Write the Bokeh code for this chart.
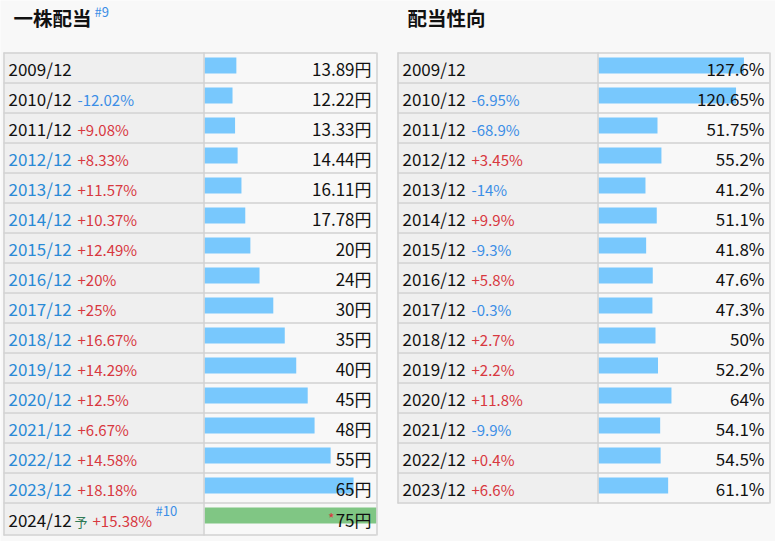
import numpy as np
from bokeh.plotting import figure
from bokeh.models import Range1d
from bokeh.embed import file_html
from bokeh.resources import INLINE
from bokeh.core.properties import value

# ---------------- data ----------------
div_title = "一株配当"
div_note = "#9"
div_periods = ["2009/12", "2010/12", "2011/12", "2012/12", "2013/12", "2014/12",
               "2015/12", "2016/12", "2017/12", "2018/12", "2019/12", "2020/12",
               "2021/12", "2022/12", "2023/12", "2024/12"]
div_changes = ["", "-12.02%", "+9.08%", "+8.33%", "+11.57%", "+10.37%", "+12.49%",
               "+20%", "+25%", "+16.67%", "+14.29%", "+12.5%", "+6.67%", "+14.58%",
               "+18.18%", "+15.38%"]
div_values = [13.89, 12.22, 13.33, 14.44, 16.11, 17.78, 20, 24, 30, 35, 40, 45,
              48, 55, 65, 75]
div_linked = [False, False, False, True, True, True, True, True, True, True, True,
              True, True, True, True, False]
div_forecast = [False] * 15 + [True]
div_unit = "円"
div_scale_max = 75

pay_title = "配当性向"
pay_periods = ["2009/12", "2010/12", "2011/12", "2012/12", "2013/12", "2014/12",
               "2015/12", "2016/12", "2017/12", "2018/12", "2019/12", "2020/12",
               "2021/12", "2022/12", "2023/12"]
pay_changes = ["", "-6.95%", "-68.9%", "+3.45%", "-14%", "+9.9%", "-9.3%", "+5.8%",
               "-0.3%", "+2.7%", "+2.2%", "+11.8%", "-9.9%", "+0.4%", "+6.6%"]
pay_values = [127.6, 120.65, 51.75, 55.2, 41.2, 51.1, 41.8, 47.6, 47.3, 50, 52.2,
              64, 54.1, 54.5, 61.1]
pay_linked = [False] * 15
pay_forecast = [False] * 15
pay_unit = "%"
pay_scale_max = 150

# ---------------- styling ----------------
W, H = 775, 541
FONT = "Noto Sans CJK JP"
BG = "#f8f8f8"
LABEL_BG = "#efefef"
GRID = "#d2d2d2"
BAR = "#78c8fd"
BAR_FC = "#80c684"
BLUE = "#3c8ee6"
LINK = "#2a8ad6"
RED = "#d8383f"
BLACK = "#111111"

p = figure(width=W, height=H, x_range=Range1d(0, W), y_range=Range1d(H, 0),
           output_backend="svg", toolbar_location=None, min_border=0,
           x_axis_location=None, y_axis_location=None)
p.grid.visible = False
p.outline_line_color = None
p.background_fill_color = BG
p.border_fill_color = BG

TOP = 52
ROW = 30


def panel(x0, xdiv, x1, title, note, periods, changes, values, linked, forecast,
          unit, scale_max):
    n = len(periods)
    heights = np.array([32 if f else ROW for f in forecast], dtype=float)
    tops = TOP + np.concatenate([[0], np.cumsum(heights)[:-1]])
    bottoms = tops + heights

    # title
    p.text(x=[x0 + 10], y=[17], text=[title], text_font=value(FONT),
           text_font_size="19.5px", text_font_style="bold", text_color="#111111",
           text_baseline="middle", text_align="left")
    if note:
        p.text(x=[x0 + 91], y=[11], text=[note], text_font=value(FONT),
               text_font_size="13px", text_color=BLUE,
               text_baseline="middle", text_align="left")

    # backgrounds
    p.quad(left=x0, right=xdiv, top=tops, bottom=bottoms, fill_color=LABEL_BG,
           line_color=None)

    # bars
    bar_left = xdiv + 1
    bar_w = x1 - bar_left
    vals = np.array(values, dtype=float)
    rights = bar_left + vals / scale_max * bar_w
    colors = [BAR_FC if f else BAR for f in forecast]
    p.hbar(y=tops + 13, left=bar_left, right=rights, height=16,
           fill_color=colors, line_color=None)

    # grid lines
    ys = np.concatenate([tops, [bottoms[-1]]]) + 0.5
    p.segment(x0=[x0] * len(ys), y0=ys, x1=[x1] * len(ys), y1=ys,
              line_color=GRID, line_width=1.5)
    p.segment(x0=[x0 + 0.5, xdiv + 0.5, x1 + 0.5], y0=[TOP] * 3,
              x1=[x0 + 0.5, xdiv + 0.5, x1 + 0.5], y1=[bottoms[-1] + 1] * 3,
              line_color=GRID, line_width=1.5)

    cy = (tops + bottoms) / 2 + 0.5
    # period labels
    p.text(x=[x0 + 5] * n, y=cy, text=periods, text_font=value(FONT),
           text_font_size="17px", text_baseline="middle", text_align="left",
           text_color=[LINK if l else BLACK for l in linked])

    # forecast marker and changes
    chx = [x0 + 89 if f else x0 + 74 for f in forecast]
    p.text(x=chx, y=cy + 1, text=changes, text_font=value(FONT),
           text_font_size="15px", text_baseline="middle", text_align="left",
           text_color=[BLUE if c.startswith("-") else RED for c in changes])
    fidx = [i for i, f in enumerate(forecast) if f]
    if fidx:
        i = fidx[0]
        p.text(x=[x0 + 71], y=[cy[i] + 2], text=["予"], text_font=value(FONT),
               text_font_size="13px", text_baseline="middle", text_align="left",
               text_color="#2f7a55")
        p.text(x=[x0 + 152], y=[cy[i] - 9], text=["#10"], text_font=value(FONT),
               text_font_size="13px", text_baseline="middle", text_align="left",
               text_color=BLUE)

    # values
    labels = [f"{v:g}{unit}" for v in values]
    p.text(x=[x1 - 5] * n, y=cy, text=labels, text_font=value(FONT),
           text_font_size="17px", text_baseline="middle", text_align="right",
           text_color=BLACK)
    if fidx:
        i = fidx[0]
        p.text(x=[x1 - 42], y=[cy[i] - 1], text=["*"], text_font=value(FONT),
               text_font_size="14px", text_baseline="middle", text_align="right",
               text_color=RED)


panel(3, 203, 376, div_title, div_note, div_periods, div_changes, div_values,
      div_linked, div_forecast, div_unit, div_scale_max)
panel(397, 597, 769, pay_title, "", pay_periods, pay_changes, pay_values,
      pay_linked, pay_forecast, pay_unit, pay_scale_max)

open("out.html", "w").write(file_html(p, INLINE))
